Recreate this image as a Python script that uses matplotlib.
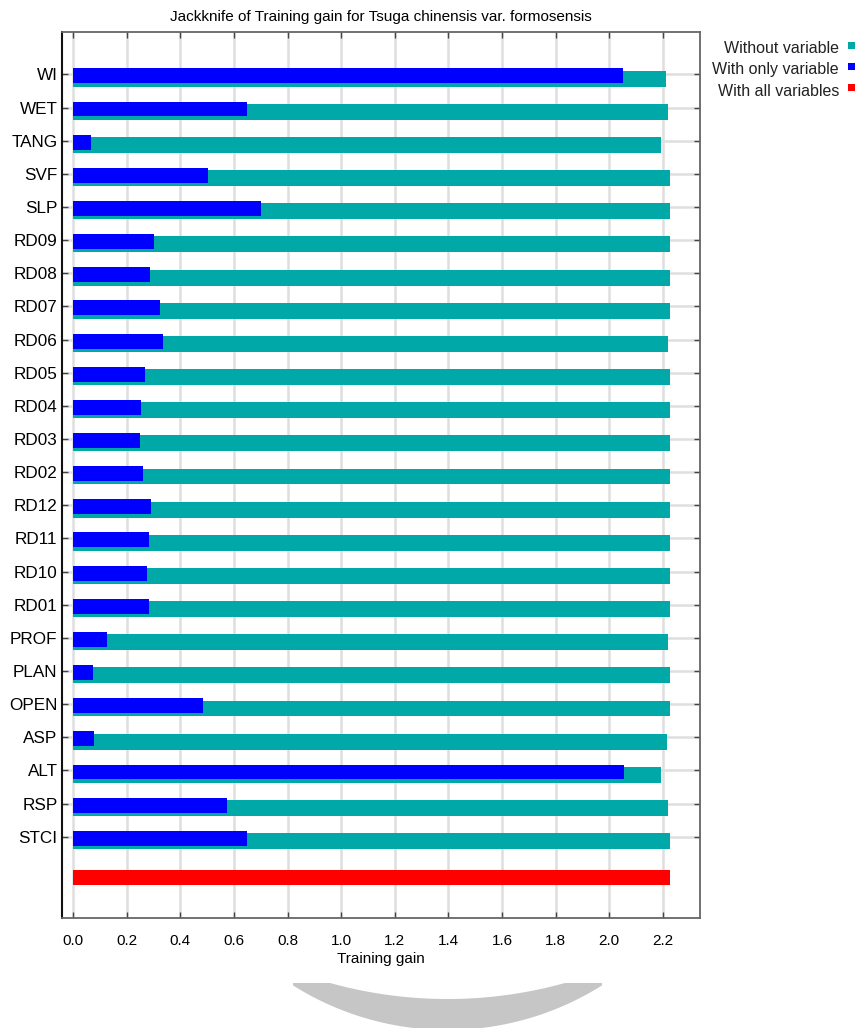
import numpy as np
import matplotlib
matplotlib.use("Agg")
import matplotlib.pyplot as plt
from matplotlib.patches import Rectangle, Polygon

plt.rcParams['font.family'] = ['Liberation Sans', 'DejaVu Sans']

# jackknife results (training gain)
variables = ["WI", "WET", "TANG", "SVF", "SLP", "RD09", "RD08", "RD07", "RD06",
             "RD05", "RD04", "RD03", "RD02", "RD12", "RD11", "RD10", "RD01",
             "PROF", "PLAN", "OPEN", "ASP", "ALT", "RSP", "STCI"]
without_var = [2.212, 2.220, 2.193, 2.227, 2.227, 2.227, 2.227, 2.227, 2.220,
               2.227, 2.227, 2.227, 2.227, 2.227, 2.227, 2.227, 2.227,
               2.220, 2.227, 2.227, 2.216, 2.193, 2.220, 2.227]
only_var = [2.051, 0.650, 0.065, 0.504, 0.701, 0.300, 0.286, 0.325, 0.336,
            0.268, 0.253, 0.248, 0.261, 0.291, 0.281, 0.276, 0.281,
            0.127, 0.074, 0.484, 0.078, 2.057, 0.574, 0.650]
all_vars = 2.227

xticks = [0.0, 0.2, 0.4, 0.6, 0.8, 1.0, 1.2, 1.4, 1.6, 1.8, 2.0, 2.2]

TEAL = "#00a8a8"
BLUE = "#0000ff"
RED = "#ff0000"

W, H = 856, 1028
fig = plt.figure(figsize=(W / 100, H / 100), dpi=100)
fig.patch.set_facecolor("white")

def fx(px):
    return px / W

def fy(py):
    return 1 - py / H

left, right, top, bottom = 61.7, 700, 32.3, 918.3
ax = fig.add_axes([fx(left), fy(bottom), fx(right - left), (bottom - top) / H])

ypos = np.arange(len(variables))
ax.barh(ypos + 0.13, without_var, height=0.48, color=TEAL, zorder=3)
ax.barh(ypos + 0.045, only_var, height=0.45, color=BLUE, zorder=4)
ax.barh([len(variables) + 0.23], [all_vars], height=0.45, color=RED, zorder=4)

ax.set_xlim(-0.043, 2.339)
ax.set_ylim(25.46, -1.27)

ax.set_yticks(ypos)
ax.set_yticklabels(variables, fontsize=12.3)
ax.set_xticks(xticks)
ax.set_xticklabels(["%.1f" % t for t in xticks], fontsize=11)

ax.tick_params(axis="both", direction="in", length=4, width=1, color="#444444")
ax.tick_params(axis="y", right=True, pad=3)
ax.tick_params(axis="x", top=True, pad=11)

ax.grid(True, color="#dedede", linewidth=1.8, zorder=0)
ax.set_axisbelow(True)

for side in ["top", "right", "bottom"]:
    ax.spines[side].set_color("#666666")
    ax.spines[side].set_linewidth(1.3)
ax.spines["left"].set_color("#111111")
ax.spines["left"].set_linewidth(1.5)

ax.set_xlabel("Training gain", fontsize=11, labelpad=3)
fig.text(fx(381), fy(17), "Jackknife of Training gain for Tsuga chinensis var. formosensis",
         ha="center", va="center", fontsize=11)

# legend on the right
legend_items = [("Without variable", TEAL), ("With only variable", BLUE),
                ("With all variables", RED)]
for k, (label, col) in enumerate(legend_items):
    base = 53.3 + 21.1 * k
    fig.text(fx(839), fy(base), label, ha="right", va="baseline", fontsize=11.5,
             color="#222222")
    fig.add_artist(Rectangle((fx(848), fy(base - 4.5)), fx(7), 7 / H,
                             transform=fig.transFigure, color=col, lw=0))

# faint seal ring below the chart
cx = 447.5
xo = np.linspace(293, 602, 200)
yo = 740 + np.sqrt(np.clip(290 ** 2 - (xo - cx) ** 2, 0, None))
yo = np.maximum(yo, 983)
xi = np.linspace(330, 565, 200)
yi = 560 + np.sqrt(439 ** 2 - (xi - cx) ** 2)
yi = np.maximum(yi, 983)
pts = [(293, 983), (330, 983)] + list(zip(xi, yi)) + [(565, 983), (602, 983)] \
    + list(zip(xo[::-1], yo[::-1]))
pts = [(fx(a), fy(b)) for a, b in pts]
fig.add_artist(Polygon(pts, closed=True, transform=fig.transFigure,
                       facecolor="#c6c6c6", edgecolor="none"))

fig.savefig("out.png", dpi=100)
